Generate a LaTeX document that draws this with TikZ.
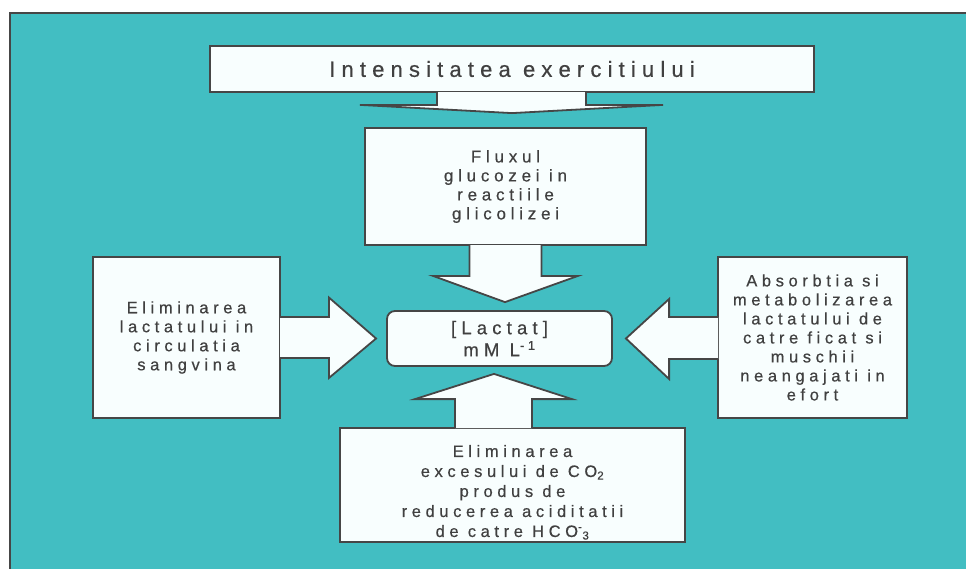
\documentclass[tikz,border=0pt]{standalone}
\usepackage{fontspec}
\setmainfont{Liberation Sans}
\newfontfamily\spacedfont[LetterSpace=28, FakeBold=0.5]{Liberation Sans}
\usetikzlibrary{positioning}
\usetikzlibrary{calc}

\definecolor{tealbg}{RGB}{66,190,194}
\definecolor{boxfill}{RGB}{248,254,254}
\definecolor{edgegray}{RGB}{70,70,70}
\definecolor{inkgray}{RGB}{64,64,64}

\tikzset{
    factor/.style={draw=edgegray, line width=1.8pt, fill=boxfill, text=inkgray,
        align=center, inner sep=0pt,
        font=\spacedfont\fontsize{16.5}{19}\selectfont},
    blockarrow/.style={draw=edgegray, line width=1.8pt, fill=boxfill, line join=miter},
}

\begin{document}
\begin{tikzpicture}[x=1pt, y=-1pt]
    \useasboundingbox (0,0) rectangle (966,568);
    % background panel
    \fill[tealbg] (10,13) rectangle (975,575);
    \draw[edgegray, line width=2pt] (10,575) -- (10,13) -- (975,13);

    \node[factor, minimum width=604, minimum height=46,
        font=\spacedfont\fontsize{22}{26}\selectfont] (intens) at (512,69) {Intensitatea exercitiului};
    \node[factor, minimum width=281, minimum height=117,
        font=\spacedfont\fontsize{17}{19}\selectfont] (flux) at (505.5,186.5)
        {Fluxul\\glucozei in\\reactiile\\glicolizei};
    \node[factor, minimum width=225, minimum height=55, rounded corners=8pt,
        font=\spacedfont\fontsize{18.5}{22}\selectfont] (lactat) at (499.5,338.5)
        {[Lactat]\\mM L\textsuperscript{-1}};
    \node[factor, minimum width=187, minimum height=161] (elim) at (186.5,337.5)
        {Eliminarea\\lactatului in\\circulatia\\sangvina};
    \node[factor, minimum width=189, minimum height=161] (absorb) at (812.5,337.5)
        {Absorbtia si\\metabolizarea\\lactatului de\\catre ficat si\\muschii\\neangajati in\\efort};
    \node[factor, minimum width=345, minimum height=114] (co2) at (512.5,485) {};
    \node[factor, draw=none, fill=none, below=17pt of co2.north,
        font=\spacedfont\fontsize{16.5}{20}\selectfont] (co2text)
        {Eliminarea\\excesului de CO\textsubscript{2}\\produs de\\reducerea aciditatii\\de catre HCO\textsuperscript{-}\textsubscript{3}};

    % block arrows
    \draw[blockarrow] ($(intens.south)+(-75,-0.9)$) |- ($(intens.south)+(-152,12)$)
        -- ($(flux.north)+(6.5,-14)$) -- ($(intens.south)+(151,12)$) -| ($(intens.south)+(74,-0.9)$);
    \draw[blockarrow] ($(flux.south)+(-36,-0.9)$) |- ($(flux.south)+(-72.5,30)$)
        -- ($(lactat.north)+(5.5,-8)$) -- ($(flux.south)+(72.5,30)$) -| ($(flux.south)+(36,-0.9)$);
    \draw[blockarrow] ($(elim.east)+(-0.9,-20.5)$) -| ($(elim.east)+(48,-40)$)
        -- ($(lactat.west)+(-10,0)$) -- ($(elim.east)+(48,40.5)$) |- ($(elim.east)+(-0.9,20.5)$);
    \draw[blockarrow] ($(absorb.west)+(0.9,-20.5)$) -| ($(absorb.west)+(-48,-38.5)$)
        -- ($(lactat.east)+(13,0)$) -- ($(absorb.west)+(-48,41.5)$) |- ($(absorb.west)+(0.9,21.5)$);
    \draw[blockarrow] ($(co2.north)+(-57.5,0.9)$) |- ($(co2.north)+(-97.5,-28)$)
        -- ($(lactat.south)+(-5.5,7)$) -- ($(co2.north)+(59.5,-28)$) -| ($(co2.north)+(19.5,0.9)$);
\end{tikzpicture}
\end{document}
